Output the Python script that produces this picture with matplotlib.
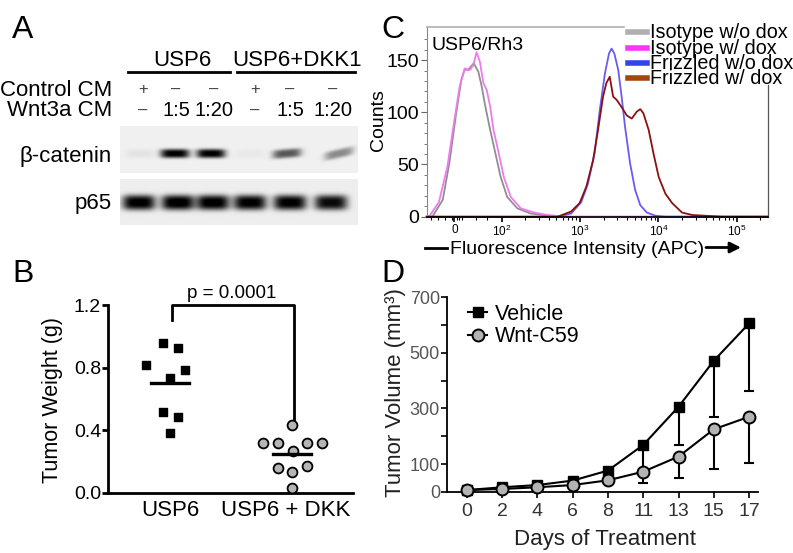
import numpy as np
import matplotlib
matplotlib.use("Agg")
import matplotlib.pyplot as plt
from matplotlib.lines import Line2D

plt.rcParams['font.family'] = ['Liberation Sans', 'DejaVu Sans']
plt.rcParams['mathtext.fontset'] = 'custom'
plt.rcParams['mathtext.rm'] = 'Liberation Sans'

W, H = 793, 553

# -------------------------------
# Data
# -------------------------------

# A: western blot, band strength per lane (0..1)
lane_x = [143, 176, 214, 255, 290, 333]
control_cm = ['+', '\u2013', '\u2013', '+', '\u2013', '\u2013']
wnt3a_cm = ['\u2013', '1:5', '1:20', '\u2013', '1:5', '1:20']
catenin_x = [140, 175, 211, 250, 287, 339]
catenin_band = [0.05, 0.95, 0.95, 0.03, 0.6, 0.4]
catenin_tilt = [0, 0, 0, 0, -0.08, -0.22]
p65_x = [139, 178, 213, 250, 290, 331]
p65_band = [0.96, 0.98, 0.97, 0.95, 0.95, 0.9]

# B: tumor weight (g)
groups_b = ['USP6', 'USP6 + DKK']
usp6_weight = [0.955, 0.927, 0.817, 0.785, 0.731, 0.518, 0.486, 0.380]
usp6_jitter = [-0.06, 0.063, -0.197, 0.123, 0.0, -0.06, 0.063, 0.0]
dkk_weight = [0.433, 0.316, 0.316, 0.316, 0.316, 0.267, 0.156, 0.171, 0.134, 0.028]
dkk_jitter = [0.0, -0.235, -0.117, 0.12, 0.243, 0.006, -0.117, 0.12, 0.0, 0.0]

# C: flow cytometry histograms (APC intensity, counts)
iso_nodox_x = [-59, -47, -25, -11, 3.6, 14.5, 21.7, 29, 41, 50.7, 58, 65, 76, 87, 98,
               118, 159, 236, 388, 575, 250000]
iso_nodox_y = [0, 0, 16, 51, 99, 131, 141, 140.5, 147, 139, 124.5, 107, 83, 60.7, 38.3,
               19, 8, 3, 1, 0, 0]
iso_dox_x = [-59, -54, -33, -15, 0, 11, 21.7, 32.6, 40, 47, 54, 61.5, 68.8, 76, 83, 94,
             107, 131, 176, 260, 388, 635, 250000]
iso_dox_y = [0, 0, 14, 48, 93, 124.5, 142, 140.5, 145, 157.5, 148.5, 128, 121, 105, 83, 61,
             38, 19, 8, 4, 1.6, 0, 0]
fz_nodox_x = [-59, 521, 772, 1040, 1268, 1540, 1790, 2080, 2350, 2530, 2740, 3080, 3400,
              3760, 4360, 5060, 5880, 7120, 9130, 12300, 250000]
fz_nodox_y = [0, 0, 3, 14, 32, 61, 102, 137, 156.5, 161, 156.5, 140.5, 115,
              86, 51, 25.6, 11, 4, 1, 0, 0]
fz_dox_x = [-59, 521, 772, 990, 1210, 1470, 1700, 1970, 2170, 2400, 2650, 2930, 3400, 3950,
            4580, 5300, 5880, 6450, 7530, 8640, 10100, 12300, 15000, 20000, 27200, 65000,
            250000]
fz_dox_y = [0, 0, 5, 13, 29, 54, 83, 115, 128, 134, 115, 112, 105, 97,
            94, 100.6, 103, 99, 83, 61, 38, 22, 13, 4, 1.6, 0, 0]
legend_c = ['Isotype w/o dox', 'Isotype w/ dox', 'Frizzled w/o dox', 'Frizzled w/ dox']

# D: tumor volume (mm3)
days = ['0', '2', '4', '6', '8', '11', '13', '15', '17']
vehicle = [7, 17, 25, 41, 77, 169, 306, 471, 605]
vehicle_err = [3, 4, 6, 8, 20, 90, 137, 203, 241]
wnt_c59 = [7, 11, 17, 25, 42, 73, 127, 225, 270]
wnt_c59_err = [3, 3, 4, 6, 15, 39, 76, 144, 167]


def rect(x0, y0, x1, y1):
    return [x0 / W, 1 - y1 / H, (x1 - x0) / W, (y1 - y0) / H]


def ctext(ax, x, y, s, fs, **kw):
    # y is the middle of the capital letters
    ax.text(x, y + 0.36 * fs * 100 / 72, s, fontsize=fs, va='baseline', **kw)


fig = plt.figure(figsize=(W / 100, H / 100), dpi=100)

# pixel canvas for labels and the blot
ov = fig.add_axes([0, 0, 1, 1], zorder=-1)
ov.set_xlim(0, W)
ov.set_ylim(H, 0)
ov.axis('off')

# -------------------------------
# Panel A
# -------------------------------


def blot_strip(x0, x1, y0, y1, centers, bands, tilts, cy, hw, hh, bg):
    X, Y = np.meshgrid(np.arange(x0, x1) + 0.5, np.arange(y0, y1) + 0.5)
    img = np.full(X.shape, bg)
    for cx, a, t in zip(centers, bands, tilts):
        dy = Y - cy - t * (X - cx)
        img += a * np.exp(-np.abs((X - cx) / hw) ** 4) * np.exp(-np.abs(dy / hh) ** 3)
    return np.clip(img, 0, 1)


img1 = blot_strip(120, 358, 126, 173, catenin_x, catenin_band, catenin_tilt, 153.5, 14.5, 4.5, 0.06)
img2 = blot_strip(120, 358, 179, 225, p65_x, p65_band, [0] * 6, 202.5, 16.5, 7.5, 0.07)
ov.imshow(img1, cmap='gray_r', vmin=0, vmax=1, extent=(120, 358, 173, 126),
          aspect='auto', interpolation='bilinear')
ov.imshow(img2, cmap='gray_r', vmin=0, vmax=1, extent=(120, 358, 225, 179),
          aspect='auto', interpolation='bilinear')
ov.set_xlim(0, W)
ov.set_ylim(H, 0)

ctext(ov, 23, 26, 'A', 23, ha='center')
ctext(ov, 182, 58, 'USP6', 16, ha='center')
ctext(ov, 297, 58, 'USP6+DKK1', 16, ha='center')
ov.plot([128, 230], [71.5, 71.5], color='k', lw=2)
ov.plot([237, 355], [71.5, 71.5], color='k', lw=2)
ctext(ov, 112, 88, 'Control CM', 16, ha='right')
ctext(ov, 112, 108.5, 'Wnt3a CM', 16, ha='right')
for x, s in zip(lane_x, control_cm):
    ctext(ov, x, 88, s, 12, ha='center', color='#444444')
for x, s in zip(lane_x, wnt3a_cm):
    if s == '\u2013':
        ctext(ov, x, 108.5, s, 12, ha='center', color='#444444')
    else:
        ctext(ov, x, 108.5, s, 14.5, ha='center')
ctext(ov, 112, 154, '\u03b2-catenin', 16, ha='right')
ctext(ov, 112, 201, 'p65', 16, ha='right')

# -------------------------------
# Panel B
# -------------------------------
ax_b = fig.add_axes(rect(108, 305, 353, 492.7))
ax_b.patch.set_visible(False)
ax_b.scatter(np.array(usp6_jitter) + 0, usp6_weight, marker='s', s=40, color='k',
             zorder=3, clip_on=False)
ax_b.scatter(np.array(dkk_jitter) + 1, dkk_weight, marker='o', s=50, facecolor='#b5b5b5',
             edgecolor='k', linewidth=1.3, zorder=3, clip_on=False)
for i, vals in enumerate([usp6_weight, dkk_weight]):
    m = np.mean(vals)
    ax_b.plot([i - 0.155, i + 0.155], [m, m], color='k', lw=2.4, zorder=4)
ax_b.plot([0.016, 0.016, 1.02, 1.02], [1.104, 1.2, 1.2, 0.454], color='k', lw=2,
          clip_on=False)
ax_b.set_xlim(-0.508, 1.5)
ax_b.set_ylim(0, 1.2)
ax_b.set_yticks([0, 0.4, 0.8, 1.2])
ax_b.set_yticklabels(['0.0', '0.4', '0.8', '1.2'], fontsize=14)
ax_b.set_xticks([0, 0.95])
ax_b.set_xticklabels(groups_b, fontsize=16)
ax_b.tick_params(axis='y', length=4, width=2, pad=1)
ax_b.tick_params(axis='x', length=0, pad=5)
for s in ['top', 'right']:
    ax_b.spines[s].set_visible(False)
for s in ['left', 'bottom']:
    ax_b.spines[s].set_linewidth(2)
ctext(ov, 23, 270, 'B', 23, ha='center')
ctext(ov, 232, 291.5, 'p = 0.0001', 13.5, ha='center')
ov.text(53, 400, 'Tumor Weight (g)', fontsize=15.5, rotation=90, ha='center', va='center')

# -------------------------------
# Panel C
# -------------------------------
ax_c = fig.add_axes(rect(426.7, 27, 768, 216.7))
ax_c.patch.set_visible(False)
ax_c.plot(iso_nodox_x, iso_nodox_y, color='#8f8f8f', lw=1.3, clip_on=False)
ax_c.plot(iso_dox_x, iso_dox_y, color='#ee7aee', lw=1.3, clip_on=False)
ax_c.plot(fz_nodox_x, fz_nodox_y, color='#6a5cf0', lw=1.3, clip_on=False)
ax_c.plot(fz_dox_x, fz_dox_y, color='#8b1010', lw=1.3, clip_on=False)
ax_c.set_xscale('symlog', linthresh=100, linscale=0.54)
ax_c.set_xlim(-59, 250000)
ax_c.set_ylim(0, 181.7)
ax_c.set_yticks([0, 50, 100, 150])
ax_c.set_yticklabels(['0', '50', '100', '150'], fontsize=14)
ax_c.set_yticks(np.arange(10, 180, 10), minor=True)
ax_c.tick_params(axis='y', which='major', length=4, width=0.8, color='#666666', pad=1.5)
ax_c.tick_params(axis='y', which='minor', length=2, width=0.6, color='#666666')
ax_c.set_xticks([0, 1e2, 1e3, 1e4, 1e5])
ax_c.set_xticklabels(['0', r'$\mathregular{10^2}$', r'$\mathregular{10^3}$',
                      r'$\mathregular{10^4}$', r'$\mathregular{10^5}$'], fontsize=8.5)
minor_c = [-50, -35, -20, -5, 5, 10, 15, 45, 70]
for k in [100, 1000, 10000]:
    minor_c += [k * m for m in range(2, 10)]
minor_c += [200000]
ax_c.set_xticks(minor_c, minor=True)
ax_c.tick_params(axis='x', which='major', length=3.5, width=1.2, pad=1.5)
ax_c.tick_params(axis='x', which='minor', length=2.5, width=0.8)
ax_c.spines['top'].set_bounds(-59, 3600)
ax_c.spines['top'].set_color('#b0b0b0')
ax_c.spines['top'].set_linewidth(1.2)
ax_c.spines['right'].set_bounds(0, 126)
ax_c.spines['right'].set_color('#555555')
ax_c.spines['right'].set_linewidth(0.9)
ax_c.spines['left'].set_color('#888888')
ax_c.spines['left'].set_linewidth(0.8)
ax_c.spines['bottom'].set_linewidth(1.2)

ctext(ov, 392.5, 26, 'C', 23, ha='center')
ctext(ov, 431.5, 42.5, 'USP6/Rh3', 14, ha='left')
ov.text(378, 120, 'Counts', fontsize=14, rotation=90, ha='center', va='center')
swatch = ['#b0b0b0', '#ff33ff', '#3344ee', '#a4460f']
for yy, lab, col in zip([30.5, 46.5, 61.5, 76.5], legend_c, swatch):
    ov.add_line(Line2D([628, 647], [yy + 1, yy + 1], color=col, lw=4))
    ctext(ov, 649.5, yy, lab, 14.2, ha='left')
ov.plot([425, 447], [247.5, 247.5], color='k', lw=2)
ctext(ov, 450.5, 247.5, 'Fluorescence Intensity (APC)', 14, ha='left')
ov.annotate('', xy=(741, 247.5), xytext=(706, 247.5),
            arrowprops=dict(arrowstyle='-|>', color='k', lw=2, mutation_scale=16,
                            shrinkA=0, shrinkB=0))

# -------------------------------
# Panel D
# -------------------------------
ax_d = fig.add_axes(rect(447, 297, 758, 492))
ax_d.patch.set_visible(False)
xd = np.arange(len(days))
ax_d.errorbar(xd, vehicle, yerr=[vehicle_err, [0] * len(days)], fmt='none',
              ecolor='k', elinewidth=1.5, capsize=3.6, capthick=1.5, zorder=2)
ax_d.errorbar(xd, wnt_c59, yerr=[wnt_c59_err, [0] * len(days)], fmt='none',
              ecolor='k', elinewidth=1.5, capsize=3.6, capthick=1.5, zorder=2)
l1, = ax_d.plot(xd, vehicle, color='k', lw=1.5, marker='s', markersize=7.3,
                markerfacecolor='k', zorder=4, clip_on=False)
l2, = ax_d.plot(xd, wnt_c59, color='k', lw=1.5, marker='o', markersize=8.6,
                markerfacecolor='#b3b3b3', markeredgecolor='k', markeredgewidth=1.4,
                zorder=5, clip_on=False)
ax_d.set_xlim(-0.567, 8.255)
ax_d.set_ylim(0, 700)
ax_d.set_xticks(xd)
ax_d.set_xticklabels(days, fontsize=14, color='#333333')
ax_d.set_yticks(np.arange(0, 701, 100))
ax_d.set_yticklabels(['0', '100', '', '300', '', '500', '', '700'], fontsize=13,
                     color='#555555')
ax_d.tick_params(axis='y', length=4, width=1.2, pad=1)
ax_d.tick_params(axis='x', length=4, width=1.2, pad=4)
for s in ['top', 'right']:
    ax_d.spines[s].set_visible(False)
for s in ['left', 'bottom']:
    ax_d.spines[s].set_linewidth(1.3)
ax_d.legend([l1, l2], ['Vehicle', 'Wnt-C59'], loc='upper left',
            bbox_to_anchor=(468 / W, 1 - 304 / H), bbox_transform=fig.transFigure,
            frameon=False, fontsize=15.5, handlelength=0.9, handletextpad=0.35,
            labelspacing=0.05, borderpad=0, borderaxespad=0, numpoints=1)

ctext(ov, 393, 270, 'D', 23, ha='center')
ov.text(395, 393, 'Tumor Volume (mm\u00b3)', fontsize=16, rotation=90, ha='center',
        va='center', color='#222222')
ctext(ov, 605, 537, 'Days of Treatment', 16, ha='center', color='#222222')

fig.savefig('out.png', dpi=100)
